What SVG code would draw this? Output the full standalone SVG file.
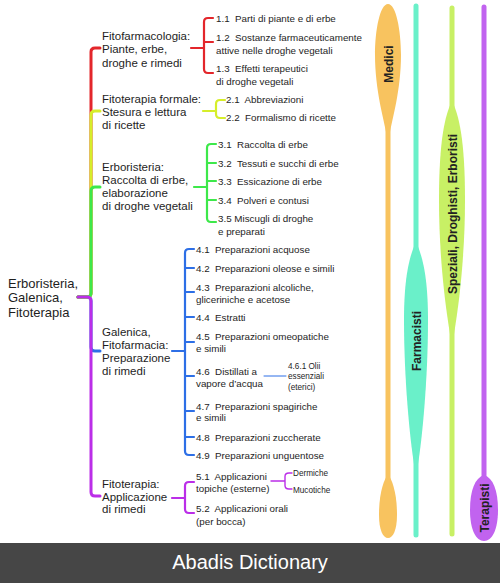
<svg xmlns="http://www.w3.org/2000/svg" width="500" height="583" viewBox="0 0 500 583">
<style>
text{font-family:"Liberation Sans",Arial,sans-serif;fill:#1e1e1e;white-space:pre}
.root{font-size:13px}
.l1{font-size:11.5px}
.l2{font-size:9.8px}
.l3{font-size:8.2px}
.lane{font-size:12px;font-weight:bold;fill:#222}
.c{fill:none;stroke-linecap:round;stroke-linejoin:round}
.t{stroke-width:3}
.b{stroke-width:2.2}
.red{stroke:#e3262b}.yel{stroke:#d6ee2a}.grn{stroke:#3de84a}.blu{stroke:#2d6fe6}.pur{stroke:#bb2ee8}
</style>
<rect width="500" height="583" fill="#fff"/>

<!-- lanes on the right -->
<g id="lane-medici">
<line x1="388" y1="20" x2="388" y2="490" stroke="#f8c35f" stroke-width="5" stroke-linecap="round"/>
<path d="M388,4 C396,4 401,30 401,55 C401,90 392,120 390,132 L386,132 C384,120 375,90 375,55 C375,30 380,4 388,4 Z" fill="#f8c35f"/>
<path d="M388,474 C392,480 397,492 397,515 C397,530 393,538 388,538 C383,538 379,530 379,515 C379,492 384,480 388,474 Z" fill="#f8c35f"/>
<text class="lane" transform="translate(392.5,64) rotate(-90)" text-anchor="middle">Medici</text>
</g>
<g id="lane-farmacisti">
<line x1="416" y1="6" x2="416" y2="535" stroke="#6af0c9" stroke-width="5" stroke-linecap="round"/>
<path d="M416,242 C422,255 428,275 428,320 C428,380 422,440 418,464 L414,464 C410,440 404,380 404,320 C404,275 410,255 416,242 Z" fill="#6af0c9"/>
<text class="lane" transform="translate(420.5,341) rotate(-90)" text-anchor="middle">Farmacisti</text>
</g>
<g id="lane-speziali">
<line x1="452" y1="8" x2="452" y2="534" stroke="#c8f065" stroke-width="5" stroke-linecap="round"/>
<path d="M452,101 C459,115 465,140 465,200 C465,260 458,310 454,334 L450,334 C446,310 439,260 439,200 C439,140 445,115 452,101 Z" fill="#c8f065"/>
<text class="lane" transform="translate(456.5,214) rotate(-90)" text-anchor="middle">Speziali, Droghisti, Erboristi</text>
</g>
<g id="lane-terapisti">
<line x1="484" y1="7" x2="484" y2="490" stroke="#c163ef" stroke-width="5" stroke-linecap="round"/>
<path d="M484,475 C493,478 498,490 498,510 C498,530 492,541 484,541 C476,541 470,530 470,510 C470,490 475,478 484,475 Z" fill="#c163ef"/>
<text class="lane" transform="translate(488.5,508) rotate(-90)" text-anchor="middle">Terapisti</text>
</g>

<!-- connectors -->
<g id="connectors">
<path class="c t blu" d="M78,297 H87 Q91,297 91,301 V347 Q91,351 95,351 H100"/>
<path class="c t red" d="M78,297 H87 Q91,297 91,293 V52 Q91,48 95,48 H100"/>
<path class="c t yel" d="M78,297 H87 Q91,297 91,293 V115 Q91,111 95,111 H100"/>
<path class="c t grn" d="M78,297 H87 Q91,297 91,293 V191 Q91,187 95,187 H100"/>
<path class="c t pur" d="M78,297 H87 Q91,297 91,301 V492 Q91,496 95,496 H100"/>

<path class="c b red" d="M191,48 H204 M213,18 H208 Q204,18 204,22 V69 Q204,73 208,73 H213 M204,42 H213"/>
<path class="c b yel" d="M203,111 H216 M225,100 H220 Q216,100 216,104 V114 Q216,118 220,118 H225"/>
<path class="c b grn" d="M194,187 H207 M216,144 H211 Q207,144 207,148 V218 Q207,222 211,222 H216 M207,163 H216 M207,181 H216 M207,200 H216"/>
<path class="c b blu" d="M172,351 H185 M194,249 H189 Q185,249 185,253 V451 Q185,455 189,455 H194 M185,268 H194 M185,292 H194 M185,317 H194 M185,342 H194 M185,376 H194 M185,411 H194 M185,437 H194"/>
<path class="c b pur" d="M172,498 H185 M194,482 H189 Q185,482 185,486 V509 Q185,513 189,513 H194"/>
<line class="c blu" x1="264" y1="376" x2="286" y2="376" stroke-width="1"/>
<path class="c pur" stroke-width="1.4" d="M271,481 H285 M292,473 H289 Q285,473 285,476.5 V485.5 Q285,489 289,489 H292"/>
</g>

<!-- nodes -->
<g id="root"><text class="root" x="8" y="287.5">Erboristeria,</text><text class="root" x="8" y="302">Galenica,</text><text class="root" x="8" y="316.5">Fitoterapia</text></g>

<g id="n1"><text class="l1" x="102" y="39.5">Fitofarmacologia:</text><text class="l1" x="102" y="53">Piante, erbe,</text><text class="l1" x="102" y="66.5">droghe e rimedi</text></g>
<g id="n1-1"><text class="l2" x="216" y="21.5">1.1  Parti di piante e di erbe</text></g>
<g id="n1-2"><text class="l2" x="216" y="40.5">1.2  Sostanze farmaceuticamente</text><text class="l2" x="216" y="53.5">attive nelle droghe vegetali</text></g>
<g id="n1-3"><text class="l2" x="216" y="71.5">1.3  Effetti terapeutici</text><text class="l2" x="216" y="84.5">di droghe vegetali</text></g>

<g id="n2"><text class="l1" x="102" y="103">Fitoterapia formale:</text><text class="l1" x="102" y="116">Stesura e lettura</text><text class="l1" x="102" y="129">di ricette</text></g>
<g id="n2-1"><text class="l2" x="226" y="103">2.1  Abbreviazioni</text></g>
<g id="n2-2"><text class="l2" x="226" y="121">2.2  Formalismo di ricette</text></g>

<g id="n3"><text class="l1" x="102" y="171">Erboristeria:</text><text class="l1" x="102" y="184">Raccolta di erbe,</text><text class="l1" x="102" y="197">elaborazione</text><text class="l1" x="102" y="210">di droghe vegetali</text></g>
<g id="n3-1"><text class="l2" x="218" y="147.5">3.1  Raccolta di erbe</text></g>
<g id="n3-2"><text class="l2" x="218" y="166.5">3.2  Tessuti e succhi di erbe</text></g>
<g id="n3-3"><text class="l2" x="218" y="184.5">3.3  Essicazione di erbe</text></g>
<g id="n3-4"><text class="l2" x="218" y="203.5">3.4  Polveri e contusi</text></g>
<g id="n3-5"><text class="l2" x="218" y="221.5">3.5 Miscugli di droghe</text><text class="l2" x="218" y="234.5">e preparati</text></g>

<g id="n4"><text class="l1" x="102" y="336">Galenica,</text><text class="l1" x="102" y="349">Fitofarmacia:</text><text class="l1" x="102" y="362">Preparazione</text><text class="l1" x="102" y="375">di rimedi</text></g>
<g id="n4-1"><text class="l2" x="196" y="252.5">4.1  Preparazioni acquose</text></g>
<g id="n4-2"><text class="l2" x="196" y="271.5">4.2  Preparazioni oleose e simili</text></g>
<g id="n4-3"><text class="l2" x="196" y="290.5">4.3  Preparazioni alcoliche,</text><text class="l2" x="196" y="302.5">gliceriniche e acetose</text></g>
<g id="n4-4"><text class="l2" x="196" y="320.5">4.4  Estratti</text></g>
<g id="n4-5"><text class="l2" x="196" y="339.5">4.5  Preparazioni omeopatiche</text><text class="l2" x="196" y="351.5">e simili</text></g>
<g id="n4-6"><text class="l2" x="196" y="374.5">4.6  Distillati a</text><text class="l2" x="196" y="386.5">vapore d’acqua</text></g>
<g id="n4-6-1"><text class="l3" x="288" y="369">4.6.1 Olii</text><text class="l3" x="288" y="379">essenziali</text><text class="l3" x="288" y="390">(eterici)</text></g>
<g id="n4-7"><text class="l2" x="196" y="409.5">4.7  Preparazioni spagiriche</text><text class="l2" x="196" y="421">e simili</text></g>
<g id="n4-8"><text class="l2" x="196" y="440.5">4.8  Preparazioni zuccherate</text></g>
<g id="n4-9"><text class="l2" x="196" y="458.5">4.9  Preparazioni unguentose</text></g>

<g id="n5"><text class="l1" x="102" y="488">Fitoterapia:</text><text class="l1" x="102" y="500.5">Applicazione</text><text class="l1" x="102" y="513">di rimedi</text></g>
<g id="n5-1"><text class="l2" x="196" y="479.5">5.1  Applicazioni</text><text class="l2" x="196" y="491.5">topiche (esterne)</text></g>
<g id="n5-1-a"><text class="l3" x="293" y="476">Dermiche</text></g>
<g id="n5-1-b"><text class="l3" x="293" y="493">Mucotiche</text></g>
<g id="n5-2"><text class="l2" x="196" y="511.5">5.2  Applicazioni orali</text><text class="l2" x="196" y="524.5">(per bocca)</text></g>

<g id="banner">
<rect x="0" y="543" width="500" height="40" fill="#464646"/>
<text x="250" y="569" text-anchor="middle" style="font-size:20px;fill:#fff">Abadis Dictionary</text>
</g>
</svg>
